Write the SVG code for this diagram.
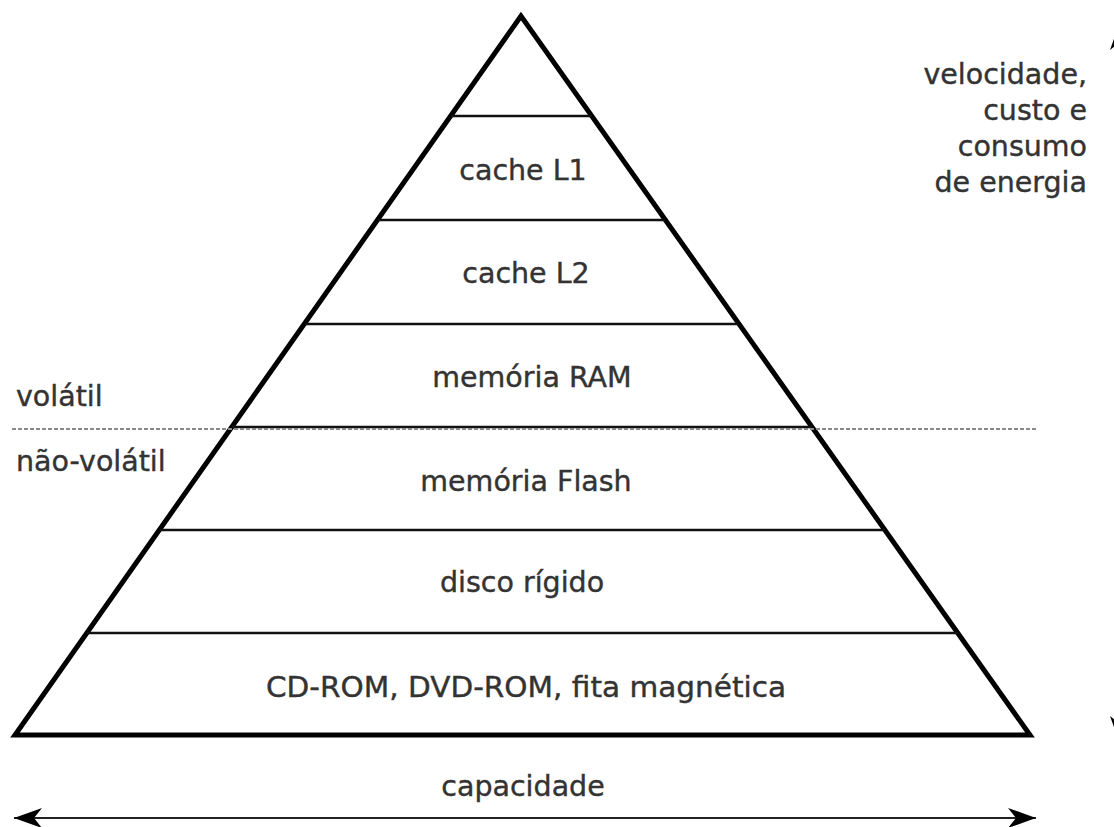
<svg xmlns="http://www.w3.org/2000/svg" width="1114" height="827" viewBox="0 0 1114 827">
  <defs>
    <style>
      .lbl { font-family: "DejaVu Sans", "Liberation Sans", sans-serif; font-size: 28.5px; fill: #333; stroke: #333; stroke-width: 0.4; }
      .mid { text-anchor: middle; }
      .end { text-anchor: end; }
      .outline { fill: #fff; stroke: #000; stroke-width: 5; stroke-linejoin: miter; }
      .tier { stroke: #111; stroke-width: 2.5; fill: none; }
      .split { stroke: #8a8a8a; stroke-width: 2; stroke-dasharray: 4 2; fill: none; }
      .axis { stroke: #222; stroke-width: 2; fill: none; }
    </style>
    <marker id="head" viewBox="-30 -12 32 24" refX="0" refY="0" markerWidth="32" markerHeight="24" markerUnits="userSpaceOnUse" orient="auto-start-reverse">
      <path d="M0,0 L-28,-10 L-20,0 L-28,10 Z" fill="#000"/>
    </marker>
  </defs>

  <rect width="1114" height="827" fill="#fff"/>

  <!-- pyramid body -->
  <g id="pyramid">
    <polygon class="outline" points="521,16 15,735 1030,735"/>
  </g>

  <!-- tier boundaries -->
  <g id="tiers">
    <line class="tier" x1="451" y1="116" x2="592" y2="116"/>
    <line class="tier" x1="378" y1="220" x2="665" y2="220"/>
    <line class="tier" x1="305" y1="324" x2="738" y2="324"/>
    <line class="tier" x1="232" y1="427" x2="812" y2="427"/>
    <line class="tier" x1="160" y1="530" x2="885" y2="530"/>
    <line class="tier" x1="87" y1="633" x2="958" y2="633"/>
  </g>

  <!-- tier labels -->
  <g id="tier-l1"><text class="lbl mid" x="523" y="180">cache L1</text></g>
  <g id="tier-l2"><text class="lbl mid" x="526" y="283">cache L2</text></g>
  <g id="tier-ram"><text class="lbl mid" x="532" y="387">memória RAM</text></g>
  <g id="tier-flash"><text class="lbl mid" x="526" y="491">memória Flash</text></g>
  <g id="tier-disk"><text class="lbl mid" x="522" y="592">disco rígido</text></g>
  <g id="tier-optical"><text class="lbl mid" x="526" y="697" textLength="520" lengthAdjust="spacingAndGlyphs">CD-ROM, DVD-ROM, fita magnética</text></g>

  <!-- volatility divide -->
  <g id="volatility">
    <line class="split" x1="12" y1="429" x2="1036" y2="429"/>
    <text class="lbl" x="16" y="406">volátil</text>
    <text class="lbl" x="16" y="471">não-volátil</text>
  </g>

  <!-- side note -->
  <g id="speed-note">
    <text class="lbl end" x="1087" y="84">velocidade,</text>
    <text class="lbl end" x="1087" y="120">custo e</text>
    <text class="lbl end" x="1087" y="156">consumo</text>
    <text class="lbl end" x="1087" y="192">de energia</text>
  </g>

  <!-- axes -->
  <g id="connectors">
    <line class="axis" x1="14" y1="818" x2="1036" y2="818" marker-start="url(#head)" marker-end="url(#head)"/>
    <line class="axis" x1="1120" y1="22" x2="1120" y2="744" marker-start="url(#head)" marker-end="url(#head)"/>
  </g>

  <g id="capacity-label"><text class="lbl mid" x="523" y="796">capacidade</text></g>
</svg>
